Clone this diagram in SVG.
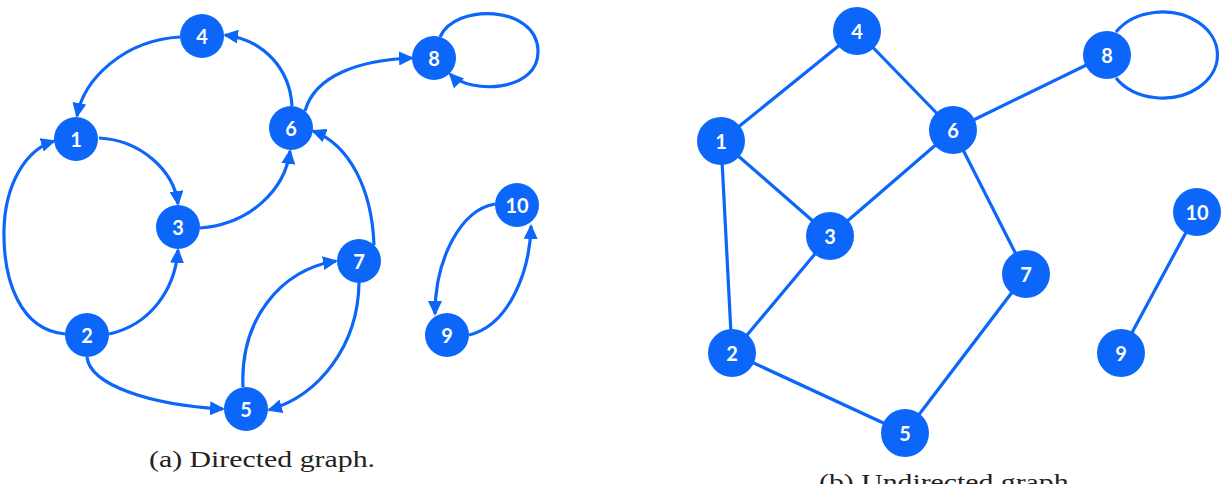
<svg xmlns="http://www.w3.org/2000/svg" width="1224" height="484" viewBox="0 0 1224 484">
<style>
.n circle{fill:#0b66f9}
.n text{fill:#fff;font-family:Lato,"Open Sans",sans-serif;font-weight:700;font-size:20px;text-anchor:middle;dominant-baseline:central}
.e path,.e line{stroke:#0b66f9;stroke-width:3.2;fill:none}
.d path{marker-end:url(#ah)}
.cap{font-family:"Liberation Serif",serif;font-size:23px;fill:#222}
</style>
<defs>
<marker id="ah" markerUnits="userSpaceOnUse" markerWidth="15" markerHeight="14" refX="13" refY="7" orient="auto">
<path d="M0,0 L15,7 L0,14 z" fill="#0b66f9"/>
</marker>
</defs>
<g id="connectors-directed" class="e d">
<path d="M180,37 C125,40 84,78 77,116"/>
<path d="M292,106 C290,70 265,40 225,35"/>
<path d="M99,138 C140,140 174,170 178,204"/>
<path d="M200,228 C250,224 285,190 290,151"/>
<path d="M65,334 C20,330 3,280 4,230 C5,185 25,150 54,141"/>
<path d="M109,334 C150,325 175,290 178,250"/>
<path d="M87,357 C90,385 150,405 223,409"/>
<path d="M243,387 C240,320 280,270 336,261"/>
<path d="M359,283 C358,345 320,395 269,410"/>
<path d="M374,245 C372,190 350,145 313,131"/>
<path d="M305,111 C315,75 360,60 412,58"/>
<path d="M495,204 C460,210 435,260 435,314"/>
<path d="M469,335 C510,325 530,270 531,226"/>
<path d="M440,37 C455,3 536,5 538,50 C540,92 470,95 450,74"/>
</g>
<g id="connectors-undirected" class="e">
<line x1="721" y1="141" x2="857" y2="31"/>
<line x1="857" y1="31" x2="953" y2="130"/>
<line x1="721" y1="141" x2="830" y2="236"/>
<line x1="953" y1="130" x2="830" y2="236"/>
<line x1="721" y1="141" x2="732" y2="353"/>
<line x1="732" y1="353" x2="830" y2="236"/>
<line x1="732" y1="353" x2="905" y2="433"/>
<line x1="905" y1="433" x2="1026" y2="274"/>
<line x1="953" y1="130" x2="1026" y2="274"/>
<line x1="953" y1="130" x2="1107" y2="55"/>
<line x1="1121" y1="353" x2="1197" y2="212"/>
<path d="M1116,32 A55 43 0 1 1 1116,78"/>
</g>
<g id="a1" class="n"><circle cx="76" cy="139" r="22"/><text x="76" y="139">1</text></g>
<g id="a2" class="n"><circle cx="87" cy="335" r="22"/><text x="87" y="335">2</text></g>
<g id="a3" class="n"><circle cx="178" cy="227" r="22"/><text x="178" y="227">3</text></g>
<g id="a4" class="n"><circle cx="202" cy="36" r="22"/><text x="202" y="36">4</text></g>
<g id="a5" class="n"><circle cx="246" cy="409" r="22"/><text x="246" y="409">5</text></g>
<g id="a6" class="n"><circle cx="291" cy="128" r="22"/><text x="291" y="128">6</text></g>
<g id="a7" class="n"><circle cx="359" cy="261" r="22"/><text x="359" y="261">7</text></g>
<g id="a8" class="n"><circle cx="434" cy="58" r="22"/><text x="434" y="58">8</text></g>
<g id="a9" class="n"><circle cx="447" cy="335" r="22"/><text x="447" y="335">9</text></g>
<g id="a10" class="n"><circle cx="517" cy="205" r="22"/><text x="517" y="205">10</text></g>
<g id="b1" class="n"><circle cx="721" cy="141" r="24"/><text x="721" y="141">1</text></g>
<g id="b2" class="n"><circle cx="732" cy="353" r="24"/><text x="732" y="353">2</text></g>
<g id="b3" class="n"><circle cx="830" cy="236" r="24"/><text x="830" y="236">3</text></g>
<g id="b4" class="n"><circle cx="857" cy="31" r="24"/><text x="857" y="31">4</text></g>
<g id="b5" class="n"><circle cx="905" cy="433" r="24"/><text x="905" y="433">5</text></g>
<g id="b6" class="n"><circle cx="953" cy="130" r="24"/><text x="953" y="130">6</text></g>
<g id="b7" class="n"><circle cx="1026" cy="274" r="24"/><text x="1026" y="274">7</text></g>
<g id="b8" class="n"><circle cx="1107" cy="55" r="24"/><text x="1107" y="55">8</text></g>
<g id="b9" class="n"><circle cx="1121" cy="353" r="24"/><text x="1121" y="353">9</text></g>
<g id="b10" class="n"><circle cx="1197" cy="212" r="24"/><text x="1197" y="212">10</text></g>
<text class="cap" x="149" y="467" textLength="226" lengthAdjust="spacingAndGlyphs">(a) Directed graph.</text>
<text class="cap" x="819" y="490" textLength="257" lengthAdjust="spacingAndGlyphs">(b) Undirected graph.</text>
</svg>
